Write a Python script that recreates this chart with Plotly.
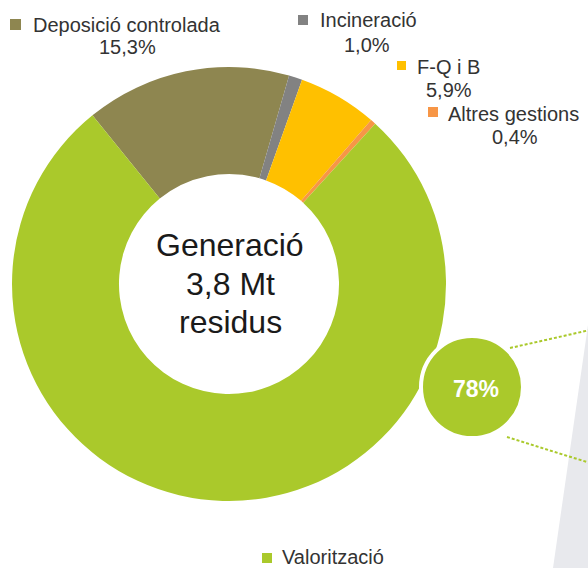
import plotly.graph_objects as go

# ---------------- data ----------------
categories = ["Deposició controlada", "Incineració", "F-Q i B", "Altres gestions", "Valorització"]
values = [15.3, 1.0, 5.9, 0.4, 77.4]
colors = ["#8E8650", "#828282", "#FFC000", "#F79646", "#AAC92B"]
center_lines = ["Generació", "3,8 Mt", "residus"]
callout_text = "78%"

W, H = 588, 568


def px(x):
    return x / W


def py(y):
    return 1 - y / H


def pct(v):
    return f"{v:.1f}".replace(".", ",") + "%"


fig = go.Figure()
fig.add_trace(go.Pie(
    labels=categories,
    values=values,
    sort=False,
    direction="clockwise",
    rotation=-39,
    hole=0.507,
    marker=dict(colors=colors, line=dict(width=0)),
    textinfo="none",
    hoverinfo="label+percent",
    showlegend=False,
    domain=dict(x=[px(12), px(446)], y=[py(501), py(67)]),
))

shapes = []
annotations = []

# light grey panel at the right edge
shapes.append(dict(type="path", xref="paper", yref="paper",
                   path=f"M {px(588)} {py(325)} L {px(553)} {py(568)} L {px(600)} {py(568)} L {px(600)} {py(325)} Z",
                   fillcolor="#E8E9ED", line=dict(width=0), layer="below"))

# callout lines
green = colors[4]
shapes.append(dict(type="line", xref="paper", yref="paper",
                   x0=px(510), y0=py(348), x1=px(590), y1=py(330),
                   line=dict(color=green, width=2, dash="3px,2px")))
shapes.append(dict(type="line", xref="paper", yref="paper",
                   x0=px(507), y0=py(437), x1=px(590), y1=py(463),
                   line=dict(color=green, width=2, dash="3px,2px")))

# callout circle
shapes.append(dict(type="circle", xref="paper", yref="paper",
                   x0=px(421), x1=px(523), y0=py(438), y1=py(336),
                   fillcolor=green, line=dict(color="white", width=4), layer="above"))
annotations.append(dict(x=px(476), y=py(389), xref="paper", yref="paper",
                        text=f"<b>{callout_text}</b>", showarrow=False,
                        xanchor="center", yanchor="middle",
                        font=dict(family="Liberation Sans, Arial", size=23, color="white")))

# center text
for line, yy in zip(center_lines, [245, 284, 322]):
    annotations.append(dict(x=px(230), y=py(yy), xref="paper", yref="paper",
                            text=line, showarrow=False, xanchor="center", yanchor="middle",
                            font=dict(family="Liberation Sans, Arial", size=32, color="#1A1A1A")))

# labels: (square x0,y0,x1,y1), (text left x, center y), (pct center x, center y)
label_layout = [
    ((10, 19, 21, 30), (32, 25), (127, 47)),
    ((298, 15, 308, 25), (319, 20), (367, 45)),
    ((397, 61, 406, 70), (416, 67), (449, 90)),
    ((428, 107, 438, 117), (447, 114), (515, 137)),
    ((262, 553, 272, 563), (281, 557), None),
]
lab_font = dict(family="Liberation Sans, Arial", size=20, color="#333333")
for name, v, c, (sq, tp, pp) in zip(categories, values, colors, label_layout):
    shapes.append(dict(type="rect", xref="paper", yref="paper",
                       x0=px(sq[0]), x1=px(sq[2]), y0=py(sq[3]), y1=py(sq[1]),
                       fillcolor=c, line=dict(width=0)))
    annotations.append(dict(x=px(tp[0]), y=py(tp[1]), xref="paper", yref="paper",
                            text=name, showarrow=False, xanchor="left", yanchor="middle",
                            borderpad=0, font=lab_font))
    if pp is not None:
        annotations.append(dict(x=px(pp[0]), y=py(pp[1]), xref="paper", yref="paper",
                                text=pct(v), showarrow=False, xanchor="center", yanchor="middle",
                                font=lab_font))

fig.update_layout(
    width=W, height=H,
    margin=dict(l=0, r=0, t=0, b=0),
    paper_bgcolor="white",
    plot_bgcolor="white",
    shapes=shapes,
    annotations=annotations,
)

fig.write_html(
    "out.html",
    config={"displayModeBar": False},
    post_script="document.body.style.margin='0';document.body.style.overflow='hidden';",
)
